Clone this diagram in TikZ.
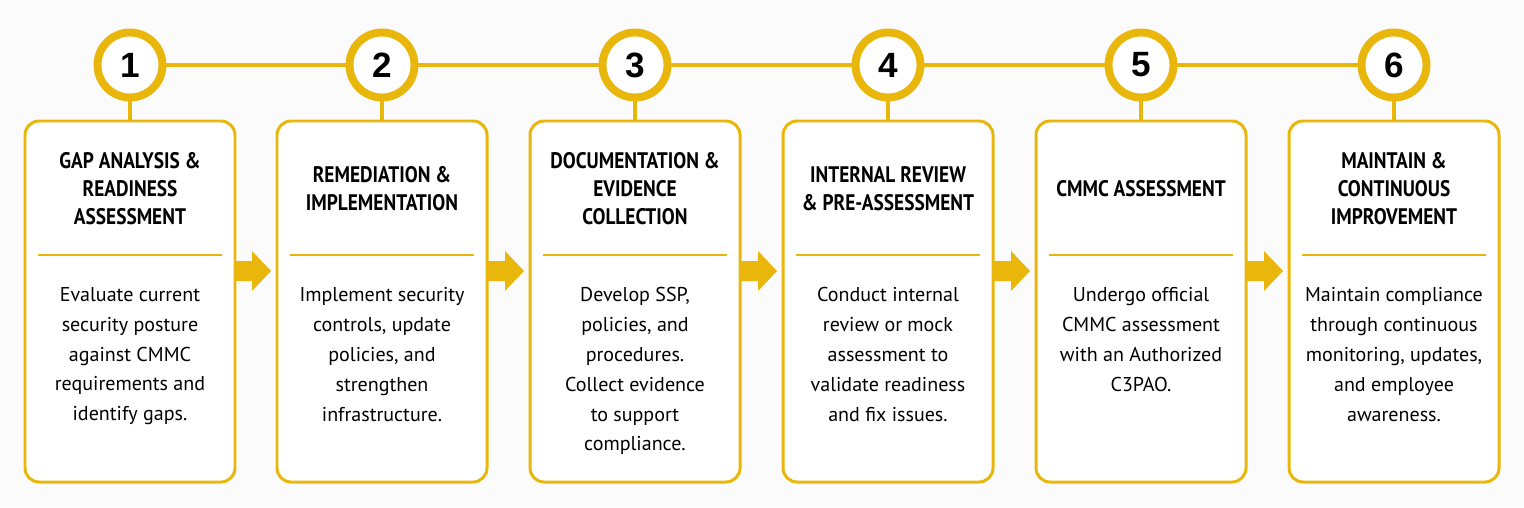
\documentclass[tikz,border=0pt]{standalone}
\usepackage{fontspec}
\setmainfont{PT Sans}
\newfontfamily\titlefont[FakeStretch=0.86]{PT Sans Bold}
\newfontfamily\numfont{Liberation Sans Bold}
\definecolor{gold}{HTML}{E9B60C}
\begin{document}
\begin{tikzpicture}[x=0.02cm,y=-0.02cm,
  card/.style={draw=gold,line width=1.7pt,rounded corners=8pt,fill=white},
  circ/.style={circle,draw=gold,line width=4.5pt,fill=white,minimum size=1.3cm,inner sep=0pt,font=\numfont\fontsize{20pt}{22pt}\selectfont},
  body/.style={align=center,anchor=north,font=\fontsize{11.4pt}{17pt}\selectfont,inner sep=0pt},
  link/.style={draw=gold,line width=2.2pt}]
\fill[black!1.5] (0,0) rectangle (1524,507);
\useasboundingbox (0,0) rectangle (1524,507);
\foreach \i/\x/\t/\b in {
 1/25/{GAP ANALYSIS \&\\READINESS\\ASSESSMENT}/{Evaluate current\\security posture\\against CMMC\\requirements and\\identify gaps.},
 2/277/{REMEDIATION \&\\IMPLEMENTATION}/{Implement security\\controls, update\\policies, and\\strengthen\\infrastructure.},
 3/530/{DOCUMENTATION \&\\EVIDENCE\\COLLECTION}/{Develop SSP,\\policies, and\\procedures.\\Collect evidence\\to support\\compliance.},
 4/783/{INTERNAL REVIEW\\\& PRE-ASSESSMENT}/{Conduct internal\\review or mock\\assessment to\\validate readiness\\and fix issues.},
 5/1036/{CMMC ASSESSMENT}/{Undergo official\\CMMC assessment\\with an Authorized\\C3PAO.},
 6/1289/{MAINTAIN \&\\CONTINUOUS\\IMPROVEMENT}/{Maintain compliance\\through continuous\\monitoring, updates,\\and employee\\awareness.}}{
  \pgfmathsetmacro\cx{\x+105}
  \draw[card] (\x,121) rectangle ++(210,361);
  \coordinate (top\i) at (\cx,121);
  \node[circ] (c\i) at (\cx,65) {\i};
  \draw[link] (c\i) -- (top\i);
  \node[align=center,font=\titlefont\fontsize{12.8pt}{15.9pt}\selectfont] (t\i) at (\cx,189) {\t};
  \draw[draw=gold,line width=1.4pt] (\x+13,255) -- (\x+197,255);
  \node[body] (b\i) at (\cx,287) {\b};
}
\foreach \a/\b in {1/2,2/3,3/4,4/5,5/6}{\draw[link] (c\a) -- (c\b);}
\foreach \x in {235,488,741,994,1247}{
  \fill[gold] (\x-1,261) -- (\x+17,261) -- (\x+17,251) -- (\x+36,271) -- (\x+17,291) -- (\x+17,281) -- (\x-1,281) -- cycle;}
\end{tikzpicture}
\end{document}
